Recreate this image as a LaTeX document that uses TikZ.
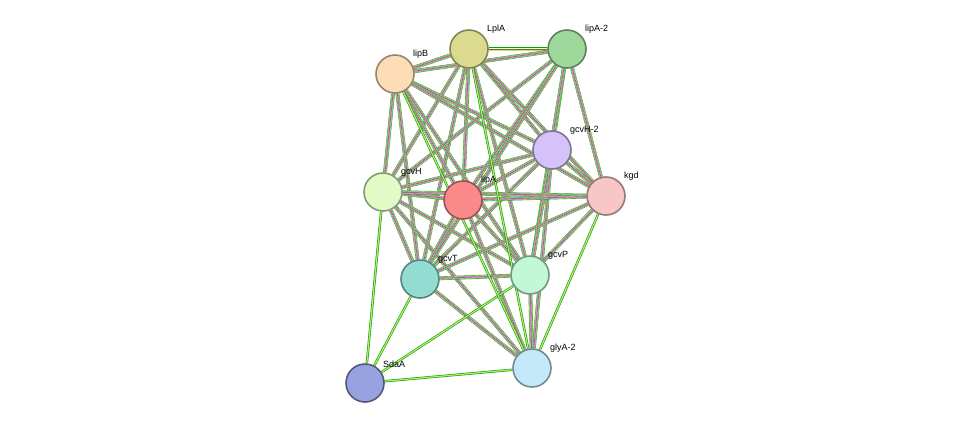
\documentclass[tikz,border=0pt]{standalone}
\usepackage{fontspec}
\setmainfont{Liberation Sans}
\usetikzlibrary{backgrounds}

\definecolor{cLplA}{HTML}{DCDA8E}
\definecolor{cLipAtwo}{HTML}{9ED89A}
\definecolor{cLipB}{HTML}{FDDCB8}
\definecolor{cGcvHtwo}{HTML}{D4C2F8}
\definecolor{cGcvH}{HTML}{E2FBC6}
\definecolor{cLipA}{HTML}{FA8A8A}
\definecolor{cKgd}{HTML}{F8C6C6}
\definecolor{cGcvT}{HTML}{92DCD2}
\definecolor{cGcvP}{HTML}{C2F8D6}
\definecolor{cSdaA}{HTML}{98A2E0}
\definecolor{cGlyAtwo}{HTML}{C2E8FA}

\tikzset{
  prot/.style={circle, draw, line width=1.6pt, minimum size=38pt, inner sep=0pt},
  lab/.style={font=\fontsize{9}{10}\selectfont, anchor=south west, inner sep=0pt},
}
\newcommand{\fulledge}[2]{%
  \draw[green!65!black, line width=3.8pt] (#1)--(#2);
  \draw[yellow!60!green!60, line width=3.0pt] (#1)--(#2);
  \draw[blue!70, line width=1.9pt] (#1)--(#2);
  \draw[white!60!yellow, line width=1.3pt] (#1)--(#2);
  \draw[magenta!70, line width=0.8pt] (#1)--(#2);
  \draw[black!60, line width=0.25pt] (#1)--(#2);}
\newcommand{\textedge}[2]{%
  \draw[green!65!black, line width=2.4pt] (#1)--(#2);
  \draw[yellow!60!green!60, line width=1.2pt] (#1)--(#2);}

\begin{document}
\begin{tikzpicture}[x=1pt,y=-1pt]
\useasboundingbox (0,0) rectangle (975,429);

% proteins
\node[prot, fill=cLplA, draw=cLplA!60!black] (lplA) at (469,49) {};
\node[prot, fill=cLipAtwo, draw=cLipAtwo!60!black] (lipAtwo) at (567,49) {};
\node[prot, fill=cLipB, draw=cLipB!60!black] (lipB) at (395,74) {};
\node[prot, fill=cGcvHtwo, draw=cGcvHtwo!60!black] (gcvHtwo) at (552,150) {};
\node[prot, fill=cGcvH, draw=cGcvH!60!black] (gcvH) at (383,192) {};
\node[prot, fill=cLipA, draw=cLipA!60!black] (lipA) at (463,200) {};
\node[prot, fill=cKgd, draw=cKgd!60!black] (kgd) at (606,196) {};
\node[prot, fill=cGcvT, draw=cGcvT!60!black] (gcvT) at (420,279) {};
\node[prot, fill=cGcvP, draw=cGcvP!60!black] (gcvP) at (530,275) {};
\node[prot, fill=cSdaA, draw=cSdaA!55!black] (sdaA) at (365,383) {};
\node[prot, fill=cGlyAtwo, draw=cGlyAtwo!60!black] (glyAtwo) at (532,368) {};

% labels
\foreach \n/\t in {lplA/LplA, lipAtwo/lipA-2, lipB/lipB, gcvHtwo/gcvH-2, gcvH/gcvH, lipA/lipA,
  kgd/kgd, gcvT/gcvT, gcvP/gcvP, sdaA/SdaA, glyAtwo/glyA-2}
  \node[lab] at ([xshift=18pt,yshift=15pt]\n.center) {\t};

\begin{pgfonlayer}{background}
\foreach \a/\b in {lplA/lipAtwo, lplA/lipB, lplA/gcvHtwo, lplA/gcvH, lplA/lipA, lplA/kgd, lplA/gcvT, lplA/gcvP,
  lipAtwo/lipB, lipAtwo/gcvHtwo, lipAtwo/gcvH, lipAtwo/lipA, lipAtwo/kgd, lipAtwo/gcvT, lipAtwo/gcvP,
  lipB/gcvHtwo, lipB/gcvH, lipB/lipA, lipB/kgd, lipB/gcvT, lipB/gcvP,
  gcvHtwo/gcvH, gcvHtwo/lipA, gcvHtwo/kgd, gcvHtwo/gcvT, gcvHtwo/gcvP, gcvHtwo/glyAtwo,
  gcvH/lipA, gcvH/kgd, gcvH/gcvT, gcvH/gcvP, gcvH/glyAtwo,
  lipA/kgd, lipA/gcvT, lipA/gcvP, lipA/glyAtwo,
  kgd/gcvT, kgd/gcvP,
  gcvT/gcvP, gcvT/glyAtwo, gcvP/glyAtwo}
  {\fulledge{\a}{\b}}
\foreach \a/\b in {sdaA/gcvH, sdaA/gcvT, sdaA/glyAtwo, sdaA/gcvP, kgd/glyAtwo, lplA/glyAtwo, lipB/glyAtwo}
  {\textedge{\a}{\b}}
\end{pgfonlayer}
\end{tikzpicture}
\end{document}
